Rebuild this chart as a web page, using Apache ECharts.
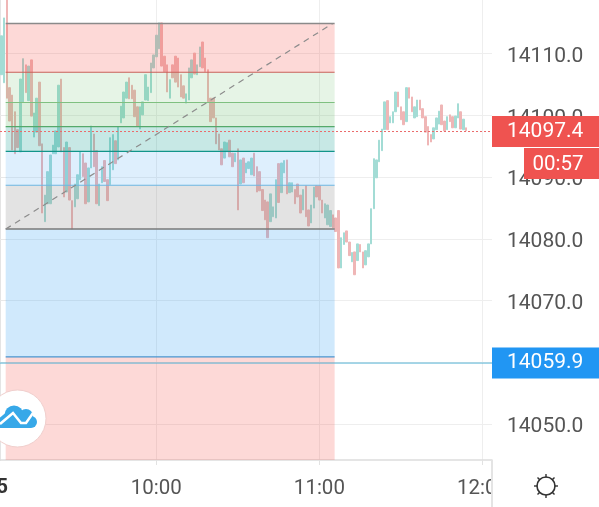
<!DOCTYPE html>
<html>
<head>
<meta charset="utf-8">
<style>html,body{margin:0;padding:0;background:#fff}#c{width:599px;height:507px}</style>
<script src="https://cdn.jsdelivr.net/npm/echarts@6/dist/echarts.min.js"></script>
</head>
<body>
<div id="c"></div>
<script>
const startMinute = 9 * 60 + 3;
const categoryCount = 181;
const timeTicks = ['10:00', '11:00', '12:00'];
const priceTicks = [14050, 14060, 14070, 14080, 14090, 14100, 14110];
const priceMin = 14044.2;
const priceMax = 14118.7;
const lastPrice = 14097.4;
const linePrice = 14059.9;
const countdown = '00:57';

const barHigh = [
14112.9,14115.8,14118.7,14104.5,14103.3,14100.6,14097.7,14105.9,14109.2,14108.2,
14108.0,14109.0,14100.4,14102.8,14105.4,14095.4,14087.1,14090.9,14093.6,14095.2,
14097.5,14104.9,14105.9,14094.8,14095.7,14094.8,14086.2,14088.9,14090.4,14094.1,
14093.8,14092.3,14091.5,14098.3,14097.0,14094.3,14088.9,14091.7,14092.7,14089.6,
14096.4,14096.9,14095.9,14098.2,14101.5,14103.8,14105.4,14106.1,14104.9,14104.1,
14101.4,14101.4,14102.2,14106.6,14104.6,14108.5,14109.8,14113.0,14115.0,14115.0,
14109.6,14108.2,14105.8,14108.2,14109.6,14109.3,14106.6,14104.8,14103.5,14107.7,
14109.0,14110.1,14108.2,14111.1,14111.9,14109.3,14107.4,14102.8,14102.8,14099.6,
14097.0,14094.6,14095.7,14095.6,14096.0,14093.9,14093.9,14094.6,14092.8,14093.1,
14092.3,14092.5,14093.1,14093.9,14091.7,14090.9,14088.0,14086.3,14086.0,14087.3,
14085.2,14089.6,14092.2,14092.3,14092.7,14092.8,14089.1,14089.1,14088.0,14088.9,
14087.1,14088.0,14088.6,14084.7,14085.5,14088.4,14088.6,14088.6,14086.3,14085.7,
14085.5,14084.6,14083.9,14083.4,14084.6,14080.2,14081.0,14081.3,14079.5,14077.8,
14077.9,14079.2,14079.1,14077.9,14078.1,14079.2,14084.9,14093.0,14092.8,14096.0,
14097.8,14102.2,14102.4,14099.8,14100.6,14103.8,14103.8,14101.4,14100.6,14104.5,
14104.5,14103.0,14101.4,14102.5,14102.5,14101.1,14099.8,14098.2,14096.9,14098.0,
14099.6,14100.7,14101.7,14099.1,14099.8,14100.1,14099.8,14099.9,14101.9,14100.6,
14099.4,14098.0];

const barLow = [
14106.6,14105.3,14102.8,14099.1,14094.4,14093.8,14094.8,14094.1,14102.2,14103.7,
14102.4,14099.9,14096.5,14097.3,14095.1,14084.2,14082.8,14085.7,14085.7,14093.8,
14093.8,14094.9,14094.1,14086.8,14087.6,14086.3,14081.6,14085.2,14086.5,14089.6,
14090.1,14085.7,14086.0,14091.5,14091.7,14085.7,14085.4,14089.1,14089.3,14086.2,
14088.8,14091.2,14092.2,14092.8,14098.8,14099.6,14102.8,14102.7,14102.7,14099.8,
14098.2,14097.8,14100.1,14102.5,14102.4,14103.7,14107.7,14109.5,14110.8,14108.0,
14107.1,14103.8,14102.8,14106.1,14105.4,14104.6,14103.0,14102.8,14102.0,14102.5,
14106.1,14106.7,14106.6,14107.9,14107.7,14107.1,14102.2,14099.0,14099.6,14095.4,
14094.4,14092.0,14093.1,14094.1,14093.3,14091.7,14092.5,14084.7,14088.9,14089.1,
14090.7,14091.4,14090.4,14090.2,14087.6,14087.8,14084.6,14083.1,14080.2,14082.8,
14083.6,14083.4,14085.9,14087.5,14090.7,14087.3,14087.5,14087.6,14085.7,14086.8,
14084.2,14084.7,14083.6,14082.1,14082.6,14085.0,14086.8,14086.3,14084.2,14083.4,
14082.3,14082.0,14081.8,14081.2,14075.3,14075.3,14079.1,14079.5,14077.3,14076.3,
14074.2,14076.5,14077.9,14075.3,14075.8,14077.1,14079.2,14084.9,14089.9,14092.5,
14094.3,14097.7,14097.7,14098.8,14098.8,14100.6,14101.4,14099.3,14098.5,14099.0,
14102.8,14100.6,14099.6,14099.8,14100.9,14099.6,14097.3,14095.2,14095.7,14096.2,
14097.7,14098.6,14098.5,14097.5,14097.7,14099.0,14098.0,14098.0,14099.6,14097.8,
14097.7,14097.5];

const barSide = (
'UUDDDDDUUD'+'UDUUDDUUUU'+'UUDDUDDUUU'+'DDUUDDUUDD'+'UUDUUUUDDD'+
'DUUUUUUUUD'+'DDUDDDDDUU'+'UDUUDDDDDD'+'DDUUDDUDUD'+'UUUDDDDDDU'+
'UUDUUDUUDD'+'DUDDUUDDDU'+'UUDDDUUDDU'+'DUDDUUUUUU'+'UUDUUUDDDU'+
'DDUUDDDDDU'+'UUDDUDDUUD'+'UD').split('');

// Fibonacci levels, top to bottom, and the span they cover in bars from the first category
const fibLevels = [14114.9, 14107.0, 14102.1, 14098.2, 14094.2, 14088.7, 14081.6, 14060.9];
const fibLineColors = ['#8a8a8a','#c9605a','#7fc080','#55a96b','#12958a','#6db6e2','#7a7a7a','#4b95cf'];
const fibFillColors = ['rgba(244,67,54,.2)','rgba(76,175,80,.14)','rgba(76,175,80,.2)','rgba(0,150,136,.22)',
  'rgba(33,150,243,.15)','rgba(128,128,128,.22)','rgba(33,150,243,.21)','rgba(244,67,54,.2)'];
const fibStartBar = 2.09;
const fibEndBar = 123.1;
const trendFrom = [2.1, 14081.6];
const trendTo = [122.4, 14114.9];

const categories = [];
for (let i = 0; i < categoryCount; i++) {
  const m = startMinute + i;
  categories.push(String(Math.floor(m / 60)).padStart(2, '0') + ':' + String(m % 60).padStart(2, '0'));
}
const candles = barHigh.map((h, i) => barSide[i] === 'U'
  ? [barLow[i], h, barLow[i], h] : [h, barLow[i], barLow[i], h]);

const zoneEdges = fibLevels.concat([priceMin]);
const fibAreas = fibFillColors.map((c, i) => [
  { coord: [fibStartBar, zoneEdges[i]], itemStyle: { color: c } },
  { coord: [fibEndBar, zoneEdges[i + 1]] }
]);
const isTimeTick = (i, v) => timeTicks.includes(v);
const sans = 'Roboto, sans-serif';
const gridColor = '#eeeeee';

// Settings icon spokes
const gearSpokes = [[546,474,546,477.5],[546,494.5,546,498],[534,486,537.5,486],[554.5,486,558,486],
  [537.5,477.5,540,480],[552,480,554.5,477.5],[537.5,494.5,540,492],[552,492,554.5,494.5]];

const hLine = (x0, x1, v, color, width, type, z) => ({
  type: 'line', xAxisIndex: 1, z, silent: true, symbol: 'none', clip: false,
  data: [[x0, v], [x1, v]],
  itemStyle: { color },
  lineStyle: { color, width, type }
});
const fibLineSeries = fibLevels.map((v, i) =>
  hLine(fibStartBar, fibEndBar, v, fibLineColors[i], i === 0 || i === 6 ? 1.5 : 1.2, 'solid', 4));
const priceTag = (value, bg) => ({
  show: true, distance: 0, formatter: value.toFixed(1), color: '#fff', backgroundColor: bg,
  fontFamily: sans, fontSize: 21, lineHeight: 29, padding: [2, 16, 0, 15]
});

const chart = echarts.init(document.getElementById('c'), null, { renderer: 'canvas' });
const baseOption = {
  animation: false,
  backgroundColor: '#fff',
  grid: { left: -1, top: 0, width: 493, height: 460, containLabel: false },
  xAxis: [{
    type: 'category', data: categories, boundaryGap: true,
    axisLine: { show: true, lineStyle: { color: '#dddddd', width: 1.5 } },
    axisTick: { show: true, interval: isTimeTick, alignWithLabel: true, length: 5, lineStyle: { color: '#e2e2e2' } },
    axisLabel: { interval: isTimeTick, margin: 18, fontFamily: sans, fontSize: 20.5, color: '#555', hideOverlap: false },
    splitLine: { show: true, interval: isTimeTick, alignWithLabel: true, lineStyle: { color: gridColor } }
  }, {
    type: 'value', min: 0, max: categoryCount, show: false
  }],
  yAxis: {
    type: 'value', position: 'right', min: priceMin, max: priceMax, scale: true,
    axisLine: { show: true, lineStyle: { color: '#e4e4e4', width: 2 } },
    axisTick: { show: true, length: 7, customValues: priceTicks, lineStyle: { color: '#e8e8e8' } },
    axisLabel: { margin: 15, customValues: priceTicks,
      formatter: v => '{p|' + v.toFixed(1) + '}',
      rich: { p: { fontFamily: sans, fontSize: 21, color: '#555', padding: [6, 0, 0, 0] } } },
    splitLine: { show: true, lineStyle: { color: gridColor } }
  },
  series: [{
    type: 'candlestick', z: 2, data: candles, barWidth: 2,
    itemStyle: { color: '#a3dcd5', color0: '#efb6b6', borderColor: '#a3dcd5', borderColor0: '#efb6b6', borderWidth: 1 }
  }, {
    type: 'line', xAxisIndex: 1, z: 3, data: [], silent: true,
    markArea: { silent: true, z: 3, data: fibAreas }
  },
  ...fibLineSeries,
  {
    type: 'line', xAxisIndex: 1, z: 5, silent: true, symbol: 'none',
    data: [trendFrom, trendTo],
    lineStyle: { color: '#8c8c8c', width: 1.2, type: [6, 5] }
  }, {
    ...hLine(0, categoryCount, lastPrice, 'rgba(239,83,80,0)', 1, 'solid', 6),
    endLabel: priceTag(lastPrice, '#ef5350')
  }, {
    ...hLine(0, categoryCount, linePrice, '#55b3d6', 1, 'solid', 6),
    endLabel: priceTag(linePrice, '#2196f3')
  }],
  graphic: [
    { type: 'rect', z: 50, shape: { x: 493, y: 462, width: 106, height: 45 }, style: { fill: '#fff' } },
    { type: 'line', z: 51, shape: { x1: 492, y1: 460, x2: 492, y2: 507 }, style: { stroke: '#e4e4e4', lineWidth: 2 } },
    { type: 'text', z: 51, style: { x: 8, y: 488, text: '5', align: 'right', verticalAlign: 'middle', fill: '#333', font: 'bold 20px Roboto, sans-serif' } },
    { type: 'rect', z: 52, shape: { x: 524, y: 148, width: 75, height: 31 }, style: { fill: '#ef5350' } },
    { type: 'text', z: 53, style: { x: 558, y: 165, text: countdown, align: 'center', verticalAlign: 'middle', fill: '#fff', font: '20.5px Roboto, sans-serif' } },
    { type: 'circle', z: 54, shape: { cx: 17.5, cy: 418.5, r: 28.5 }, style: { fill: '#fff', stroke: '#f0cfcd', lineWidth: 1 } },
    { type: 'circle', z: 55, shape: { cx: 14, cy: 415, r: 9.5 }, style: { fill: '#37a8e8' } },
    { type: 'circle', z: 55, shape: { cx: 26, cy: 416, r: 7 }, style: { fill: '#37a8e8' } },
    { type: 'circle', z: 55, shape: { cx: 31, cy: 422, r: 6 }, style: { fill: '#37a8e8' } },
    { type: 'polygon', z: 55, shape: { points: [[0, 428], [-2, 419], [8, 411], [31, 416], [31, 428]] }, style: { fill: '#37a8e8' } },
    { type: 'polyline', z: 56, shape: { points: [[0, 424], [13, 413], [21, 423], [26, 423], [33, 413]] }, style: { fill: 'none', stroke: '#fff', lineWidth: 2.5 } },
    { type: 'circle', z: 54, shape: { cx: 546, cy: 486, r: 9 }, style: { fill: 'none', stroke: '#333', lineWidth: 1.6 } }
  ].concat(gearSpokes.map(s => ({ type: 'line', z: 54, shape: { x1: s[0], y1: s[1], x2: s[2], y2: s[3] }, style: { stroke: '#333', lineWidth: 1.4 } })))
};
chart.setOption(baseOption);
// Dotted last-price line, placed through the y scale
const lastY = chart.convertToPixel({ yAxisIndex: 0 }, lastPrice);
chart.setOption({ graphic: baseOption.graphic.concat([
  { type: 'line', z: 49, silent: true, shape: { x1: 0, y1: lastY, x2: 492, y2: lastY },
    style: { stroke: '#ea6b6b', lineWidth: 1, lineDash: [2, 2] } }
]) });
</script>
</body>
</html>
